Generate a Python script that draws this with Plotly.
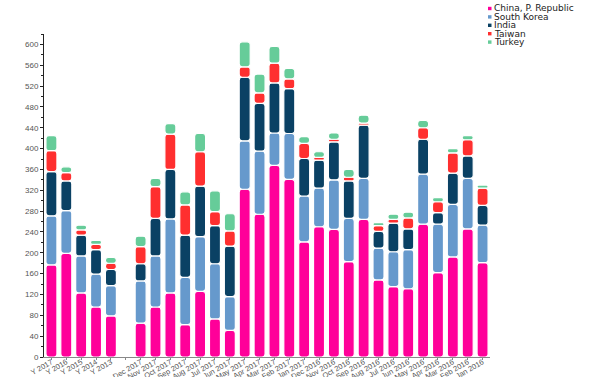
import numpy as np
import plotly.graph_objects as go

categories = ["Y 2017", "Y 2016", "Y 2015", "Y 2014", "Y 2013", " ",
              "Dec 2017", "Nov 2017", "Oct 2017", "Sep 2017", "Aug 2017", "Jul 2017",
              "Jun 2017", "May 2017", "Apr 2017", "Mar 2017", "Feb 2017", "Jan 2017",
              "Dec 2016", "Nov 2016", "Oct 2016", "Sep 2016", "Aug 2016", "Jul 2016",
              "Jun 2016", "May 2016", "Apr 2016", "Mar 2016", "Feb 2016", "Jan 2016"]

china = [177, 199, 123, 96, 79, None,
         65, 96, 123, 62, 126, 73, 51, 322, 274, 368, 341, 221,
         250, 245, 183, 264, 148, 135, 131, 255, 162, 192, 246, 181]
south_korea = [94, 82, 71, 63, 58, None,
               81, 98, 142, 91, 105, 106, 65, 93, 121, 62, 88, 88,
               74, 95, 83, 79, 61, 67, 75, 96, 93, 101, 97, 72]
india = [85, 57, 40, 47, 31, None,
         33, 72, 95, 81, 97, 73, 97, 122, 92, 96, 86, 72,
         54, 73, 72, 102, 32, 55, 40, 67, 22, 60, 43, 38]
taiwan = [40, 16, 10, 10, 12, None,
          33, 61, 68, 58, 66, 27, 29, 20, 20, 38, 19, 29,
          5, 5, 7, 4, 11, 7, 21, 22, 21, 39, 31, 33]
turkey = [29, 11, 9, 8, 11, None,
          20, 16, 20, 25, 35, 40, 33, 48, 36, 32, 20, 13,
          11, 12, 15, 15, 6, 10, 11, 14, 8, 8, 8, 6]

series_names = ["China, P. Republic", "South Korea", "India", "Taiwan", "Turkey"]
series_values = [china, south_korea, india, taiwan, turkey]
colors = ["#ff0099", "#6699cc", "#0a4164", "#ff2f2f", "#66cc99"]

y_ticks = list(range(0, 601, 40))

fig = go.Figure()
arr = [np.array([np.nan if v is None else v for v in s], dtype=float) for s in series_values]
base = np.zeros(len(categories))
for name, vals, col in zip(series_names, arr, colors):
    fig.add_trace(go.Bar(
        x=categories, y=vals, base=base.copy(), name=name,
        marker=dict(color=col, line=dict(color="white", width=1.2), cornerradius=3),
        showlegend=False,
    ))
    base = base + np.nan_to_num(vals)

FW, FH = 600, 377
L, R, T, B = 44, 110, 34, 20
W, H = FW - L - R, FH - T - B

# legend drawn as annotations + small squares (pixel positions)
for i, (name, col) in enumerate(zip(series_names, colors)):
    py = 8.5 + i * 8.4
    yp = (FH - B - py) / H
    xp = (488 - L) / W
    fig.add_shape(type="rect", xref="paper", yref="paper",
                  xsizemode="pixel", ysizemode="pixel",
                  xanchor=xp, yanchor=yp, x0=0, x1=3.5, y0=-1.7, y1=1.7,
                  fillcolor=col, line=dict(width=0))
    fig.add_annotation(xref="paper", yref="paper", x=(492 - L) / W, y=yp,
                       text=name, showarrow=False, xanchor="left", yanchor="middle",
                       font=dict(family="DejaVu Sans", size=9, color="#222"))

fig.update_layout(
    width=FW, height=FH,
    margin=dict(l=L, r=R, t=T, b=B, autoexpand=False),
    barmode="overlay", bargap=0.26,
    plot_bgcolor="white", paper_bgcolor="white",
    font=dict(family="Liberation Sans", size=8, color="#555"),
    showlegend=False,
)
fig.update_xaxes(
    type="category", categoryorder="array", categoryarray=categories,
    tickangle=-30, showgrid=False, showline=True, linecolor="#888", linewidth=1,
    ticks="outside", ticklen=2, tickcolor="#888", automargin=False,
    ticklabelstandoff=-5,
    tickfont=dict(size=7.5, color="#555"),
)
fig.update_yaxes(
    range=[0, 620], tickvals=y_ticks, showgrid=False, zeroline=False,
    showline=True, linecolor="#222", linewidth=1,
    ticks="outside", ticklen=3, tickcolor="#222", automargin=False,
    minor=dict(dtick=20, ticks="outside", ticklen=2, tickcolor="#222"),
    tickfont=dict(size=8, color="#555"),
)

fig.write_html("out.html", config={"displayModeBar": False},
               post_script="document.body.style.margin='0px';document.body.style.overflow='hidden';")
